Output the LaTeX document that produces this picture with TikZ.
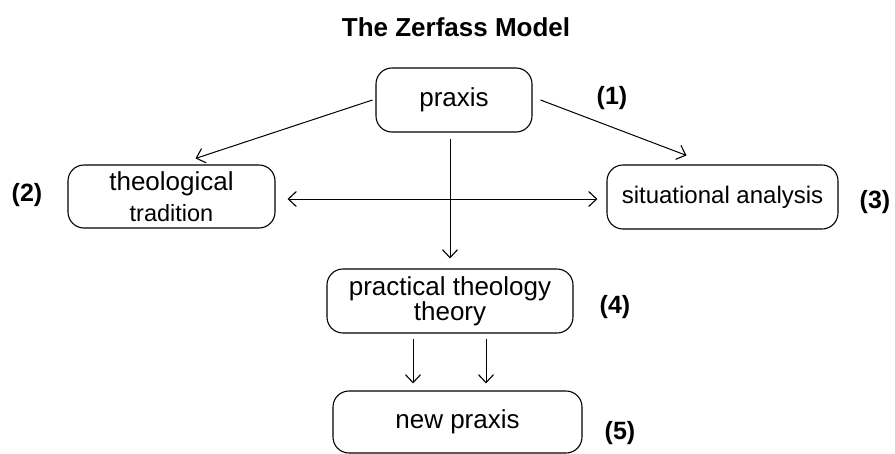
\documentclass[tikz,border=0pt]{standalone}
\usepackage{fontspec}
\setmainfont{Liberation Sans}
\usetikzlibrary{arrows.meta}
\begin{document}
\begin{tikzpicture}[x=1pt,y=-1pt,
  box/.style={draw, line width=1.1pt, rounded corners=16pt, inner sep=0pt, align=center},
  big/.style={font=\fontsize{26}{22}\selectfont},
  lbl/.style={font=\fontsize{25}{25}\selectfont\bfseries, inner sep=0pt},
  arr/.style={line width=1pt, -{Straight Barb[length=8pt,width=15pt,line width=1.1pt]}},
  darr/.style={line width=1pt, {Straight Barb[length=8pt,width=15pt,line width=1.1pt]}-{Straight Barb[length=8pt,width=15pt,line width=1.1pt]}}]
\useasboundingbox (0,0) rectangle (895,453);
\node[font=\fontsize{26}{26}\selectfont\bfseries, inner sep=0pt] (title) at (456,27) {The Zerfass Model};
\node[box, big, minimum width=156pt, minimum height=64pt] (praxis) at (454,100) {praxis};
\node[box, minimum width=207pt, minimum height=63pt] (theo) at (171.5,196.5)
  {{\fontsize{26}{22}\selectfont theological}\\[7pt]{\fontsize{23.5}{22}\selectfont tradition}};
\node[box, font=\fontsize{24}{24}\selectfont, minimum width=231pt, minimum height=64pt] (situ) at (722.5,197) {situational analysis};
\node[box, big, minimum width=246pt, minimum height=64pt] (pract) at (450,301) {practical theology\\theory};
\node[box, big, minimum width=249pt, minimum height=62pt] (newp) at (457.5,422) {new praxis};
\node[lbl] (l1) at (612,98) {(1)};
\node[lbl] (l2) at (27,195) {(2)};
\node[lbl] (l3) at (875,202) {(3)};
\node[lbl] (l4) at (615,307) {(4)};
\node[lbl] (l5) at (620,433) {(5)};
\draw[arr] ([xshift=-3pt]praxis.west) -- ([xshift=24pt,yshift=6pt]theo.north);
\draw[arr] ([xshift=8pt]praxis.east) -- ([xshift=-36pt,yshift=9pt]situ.north);
\draw[darr] ([xshift=12pt,yshift=-2.5pt]theo.east) -- ([xshift=-9pt,yshift=-2pt]situ.west);
\draw[arr] ([xshift=-4pt,yshift=-6pt]praxis.south) -- ([yshift=10pt]pract.north);
\draw[arr] ([xshift=-37pt,yshift=-5pt]pract.south) -- ([xshift=-44.5pt,yshift=7pt]newp.north);
\draw[arr] ([xshift=36pt,yshift=-5pt]pract.south) -- ([xshift=28.5pt,yshift=7pt]newp.north);
\end{tikzpicture}
\end{document}
